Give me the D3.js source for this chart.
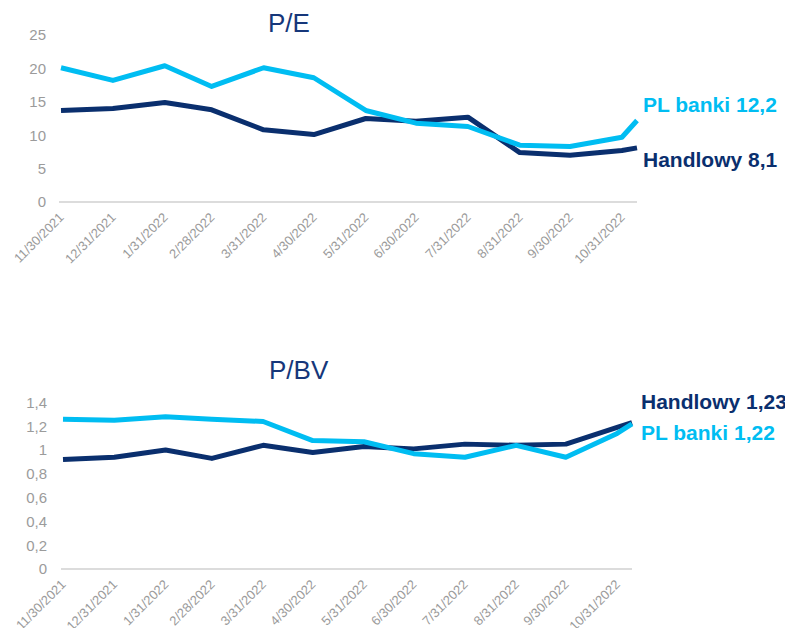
<!DOCTYPE html>
<html>
<head>
<meta charset="utf-8">
<script src="https://cdn.jsdelivr.net/npm/d3@7"></script>
<style>
    body { margin: 0; background: #fff; }
    svg { display: block; font-family: "Liberation Sans", Arial, sans-serif; }
    .domain { display: none; }
</style>
</head>
<body>
<div id="wrapper"></div>
<script>
// dates of observations (last one is an intra-month reading)
var dates = ['2021-11-30', '2021-12-31', '2022-01-31', '2022-02-28', '2022-03-31',
             '2022-04-30', '2022-05-31', '2022-06-30', '2022-07-31', '2022-08-31',
             '2022-09-30', '2022-10-31', '2022-11-09'];
var tick_dates = dates.slice(0, 12);

var pe_handlowy = [13.7, 14.0, 14.9, 13.8, 10.8, 10.1, 12.5, 12.1, 12.7, 7.4, 7.0, 7.7, 8.1];
var pe_pl_banki = [20.1, 18.2, 20.4, 17.3, 20.1, 18.6, 13.7, 11.8, 11.3, 8.5, 8.3, 9.7, 12.2];
var pe_ticks = [0, 5, 10, 15, 20, 25];

var pbv_handlowy = [0.92, 0.94, 1.0, 0.93, 1.04, 0.98, 1.03, 1.01, 1.05, 1.04, 1.05, 1.19, 1.23];
var pbv_pl_banki = [1.26, 1.25, 1.28, 1.26, 1.24, 1.08, 1.07, 0.97, 0.94, 1.04, 0.94, 1.14, 1.22];
var pbv_ticks = [0, 0.2, 0.4, 0.6, 0.8, 1, 1.2, 1.4];

var DARK = '#0a2f6e';
var LIGHT = '#00bdf2';
var GREY = '#9b9b9b';

var parse = d3.timeParse('%Y-%m-%d');
var fmt_date = d3.timeFormat('%-m/%d/%Y');
var fmt_num = function(v) { return String(+v.toFixed(1)).replace('.', ','); };

var svg = d3.select('#wrapper').append('svg')
    .attr('width', 785)
    .attr('height', 628);

function draw_panel(opts) {
    var g = svg.append('g');
    var x = d3.scaleTime()
        .domain([parse(dates[0]), parse(dates[dates.length - 1])])
        .range(opts.x_range);
    var y = d3.scaleLinear()
        .domain(opts.y_domain)
        .range(opts.y_range);

    // baseline
    g.append('line')
        .attr('x1', opts.x_range[0] - 2)
        .attr('x2', opts.x_range[1])
        .attr('y1', y(0))
        .attr('y2', y(0))
        .attr('stroke', '#dcdcdc')
        .attr('stroke-width', 2);

    // y axis
    g.append('g')
        .attr('transform', 'translate(' + opts.y_label_x + ',0)')
        .call(d3.axisLeft(y).tickValues(opts.ticks).tickSize(0).tickPadding(0)
            .tickFormat(fmt_num))
        .selectAll('text')
        .attr('fill', GREY)
        .style('font-size', '15px')
        .style('font-family', '"Liberation Sans", Arial, sans-serif');

    // x axis
    var axis_x = g.append('g')
        .attr('transform', 'translate(0,' + y(0) + ')')
        .call(d3.axisBottom(x).tickValues(tick_dates.map(parse)).tickSize(0)
            .tickFormat(fmt_date));
    axis_x.selectAll('text')
        .attr('fill', GREY)
        .style('font-size', '13px')
        .style('font-family', '"Liberation Sans", Arial, sans-serif')
        .attr('text-anchor', 'end')
        .attr('dy', '0.35em')
        .attr('y', 0)
        .attr('transform', 'translate(0,13) rotate(-45)');

    var line = d3.line()
        .x(function(d, i) { return x(parse(dates[i])); })
        .y(function(d) { return y(d); });

    g.append('path')
        .datum(opts.dark)
        .attr('d', line)
        .attr('fill', 'none')
        .attr('stroke', DARK)
        .attr('stroke-width', 5)
        .attr('stroke-linejoin', 'round');
    g.append('path')
        .datum(opts.light)
        .attr('d', line)
        .attr('fill', 'none')
        .attr('stroke', LIGHT)
        .attr('stroke-width', 5)
        .attr('stroke-linejoin', 'round');

    // title
    g.append('text')
        .attr('x', opts.title_pos[0])
        .attr('y', opts.title_pos[1])
        .attr('fill', '#16377a')
        .style('font-size', '26px')
        .text(opts.title);

    // end labels
    opts.labels.forEach(function(l) {
        g.append('text')
            .attr('x', l.x)
            .attr('y', l.y)
            .attr('fill', l.color)
            .style('font-size', '21px')
            .style('font-weight', 'bold')
            .text(l.text);
    });
}

draw_panel({
    title: 'P/E',
    title_pos: [268, 32],
    x_range: [61, 637],
    y_domain: [0, 25],
    y_range: [202, 35],
    y_label_x: 46,
    ticks: pe_ticks,
    dark: pe_handlowy,
    light: pe_pl_banki,
    labels: [
        {text: 'PL banki ' + fmt_num(pe_pl_banki[12]), x: 643, y: 112, color: LIGHT},
        {text: 'Handlowy ' + fmt_num(pe_handlowy[12]), x: 643, y: 167, color: DARK}
    ]
});

draw_panel({
    title: 'P/BV',
    title_pos: [269, 379],
    x_range: [63, 632],
    y_domain: [0, 1.4],
    y_range: [569, 402.5],
    y_label_x: 47,
    ticks: pbv_ticks,
    dark: pbv_handlowy,
    light: pbv_pl_banki,
    labels: [
        {text: 'Handlowy 1,23', x: 641, y: 409, color: DARK},
        {text: 'PL banki 1,22', x: 641, y: 440, color: LIGHT}
    ]
});
</script>
</body>
</html>
